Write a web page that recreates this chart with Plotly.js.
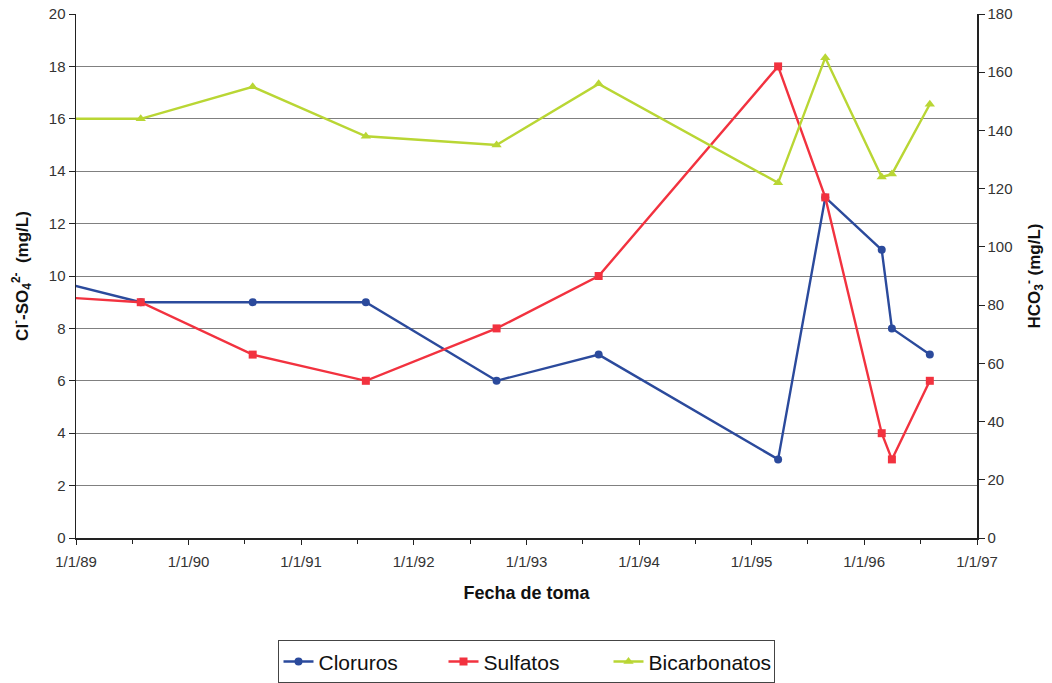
<!DOCTYPE html>
<html>
<head>
<meta charset="utf-8">
<script src="https://cdn.plot.ly/plotly-3.0.1.min.js"></script>
<style>html,body{margin:0;padding:0;background:#fff;}#chart{width:1052px;height:683px;}</style>
</head>
<body>
<div id="chart"></div>
<script>
// Sampling dates (first one lies before the visible range; its line enters from the left edge)
const fechas = ['1988-08-23','1989-07-30','1990-07-28','1991-07-30','1992-09-26','1993-08-23','1995-03-28','1995-08-28','1996-02-27','1996-03-31','1996-08-01'];
const cloruros = [10, 9, 9, 9, 6, 7, 3, 13, 11, 8, 7];
const sulfatos = [9.25, 9, 7, 6, 8, 10, 18, 13, 4, 3, 6];
const bicarbonatos = [144, 144, 155, 138, 135, 156, 122, 165, 124, 125, 149];
const xTickVals = ['1989-01-01','1990-01-01','1991-01-01','1992-01-01','1993-01-01','1994-01-01','1995-01-01','1996-01-01','1997-01-01'];
const xTickText = ['1/1/89','1/1/90','1/1/91','1/1/92','1/1/93','1/1/94','1/1/95','1/1/96','1/1/97'];
const xMinorVals = ['1989-07-02','1990-07-02','1991-07-02','1992-07-02','1993-07-02','1994-07-02','1995-07-02','1996-07-02'];

const font = 'Arial, "Liberation Sans", sans-serif';
const traces = [
  {x: fechas, y: cloruros, name: 'Cloruros', type: 'scatter', mode: 'lines+markers',
   line: {color: '#2b4a9c', width: 2.4}, marker: {symbol: 'circle', size: 8, color: '#2b4a9c'}, cliponaxis: true},
  {x: fechas, y: sulfatos, name: 'Sulfatos', type: 'scatter', mode: 'lines+markers',
   line: {color: '#f2323f', width: 2.4}, marker: {symbol: 'square', size: 8, color: '#f2323f'}, cliponaxis: true},
  {x: fechas, y: bicarbonatos, name: 'Bicarbonatos', type: 'scatter', mode: 'lines+markers', yaxis: 'y2',
   line: {color: '#b9d634', width: 2.4}, marker: {symbol: 'triangle-up', size: 9, color: '#b9d634'}, cliponaxis: true}
];

const layout = {
  width: 1052, height: 683,
  margin: {l: 76, r: 75, t: 14, b: 145},
  paper_bgcolor: '#ffffff', plot_bgcolor: '#ffffff',
  font: {family: font, color: '#333333', size: 15},
  showlegend: true,
  legend: {orientation: 'h', x: 0.5, xanchor: 'center', xref: 'container',
    y: 0.031, yanchor: 'middle', yref: 'container',
    bordercolor: '#444444', borderwidth: 1, font: {size: 21, color: '#111111'},
    entrywidth: 120, tracegroupgap: 0},
  xaxis: {
    type: 'date', range: ['1989-01-01', '1997-01-01'],
    tickmode: 'array', tickvals: xTickVals, ticktext: xTickText,
    ticks: 'outside', ticklen: 5, tickcolor: '#222', showgrid: false, zeroline: false,
    showline: true, linecolor: '#222', linewidth: 1.5,
    tickfont: {size: 15, color: '#333'}, ticklabelstandoff: 4,
    minor: {tickvals: xMinorVals, ticks: 'outside', ticklen: 4, tickcolor: '#222', showgrid: false},
    title: {text: 'Fecha de toma', font: {size: 18, color: '#111', family: font, weight: 'bold'}, standoff: 18}
  },
  yaxis: {
    range: [0, 20], dtick: 2, tick0: 0,
    ticks: 'outside', ticklen: 6, tickcolor: '#222', showgrid: true, gridcolor: '#808080', gridwidth: 1,
    zeroline: false, showline: true, linecolor: '#222', linewidth: 1.5,
    tickfont: {size: 15, color: '#333'},
    title: {text: 'Cl<sup>-</sup>-SO<sub>4</sub><sup>2-</sup>  (mg/L)', font: {size: 17, color: '#111', family: font, weight: 'bold'}, standoff: 16}
  },
  yaxis2: {
    overlaying: 'y', side: 'right', range: [0, 180], dtick: 20, tick0: 0,
    ticks: 'outside', ticklen: 6, tickcolor: '#222', showgrid: false, zeroline: false,
    showline: true, linecolor: '#222', linewidth: 1.5,
    tickfont: {size: 15, color: '#333'},
    title: {text: 'HCO<sub>3</sub><sup>-</sup> (mg/L)', font: {size: 17, color: '#111', family: font, weight: 'bold'}, standoff: 16}
  }
};

Plotly.newPlot('chart', traces, layout, {displayModeBar: false, staticPlot: true});
</script>
</body>
</html>
